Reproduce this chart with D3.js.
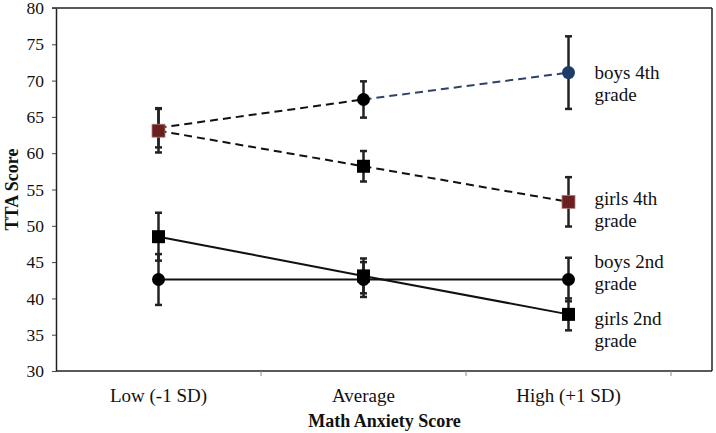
<!DOCTYPE html>
<html>
<head>
<meta charset="utf-8">
<script src="https://cdn.jsdelivr.net/npm/d3@7"></script>
<style>
  body { margin: 0; background: #fff; }
  svg text { font-family: "Liberation Serif", "Times New Roman", serif; fill: #111; }
</style>
</head>
<body>
<div id="chart"></div>
<script>
// categories on the x axis
const categories = ["Low (-1 SD)", "Average", "High (+1 SD)"];
const yTicks = [30, 35, 40, 45, 50, 55, 60, 65, 70, 75, 80];

// series means and error half-widths
const boys4 = [63.5, 67.4, 71.1];
const boys4Err = [2.7, 2.5, 5.0];
const girls4 = [63.1, 58.2, 53.3];
const girls4Err = [3.0, 2.1, 3.4];
const boys2 = [42.6, 42.6, 42.6];
const boys2Err = [3.5, 2.4, 3.0];
const girls2 = [48.5, 43.1, 37.8];
const girls2Err = [3.3, 2.4, 2.2];

const series = [
    { name: ["boys 4th", "grade"], values: boys4, err: boys4Err, shape: "circle", dash: "8,5",
      segColors: ["#111", "#2d4468"], fills: [null, "#000", "#1f3c66"], labelDy: 6 },
    { name: ["girls 4th", "grade"], values: girls4, err: girls4Err, shape: "square", dash: "8,5",
      segColors: ["#111", "#111"], fills: ["#6b1f1f", "#000", "#6b1f1f"], labelDy: 3 },
    { name: ["boys 2nd", "grade"], values: boys2, err: boys2Err, shape: "circle", dash: null,
      segColors: ["#111", "#111"], fills: ["#000", "#000", "#000"], labelDy: -12 },
    { name: ["girls 2nd", "grade"], values: girls2, err: girls2Err, shape: "square", dash: null,
      segColors: ["#111", "#111"], fills: ["#000", "#000", "#000"], labelDy: 11 }
];

const W = 716, H = 433;
const margin = { top: 8, right: 4, bottom: 62, left: 56 };
const plotRight = 671; // end of category band area, box continues to W - margin.right

const svg = d3.select("#chart").append("svg")
    .attr("width", W)
    .attr("height", H);

const x = d3.scaleBand()
    .domain(categories)
    .range([margin.left, plotRight])
    .paddingInner(0)
    .paddingOuter(0);

const y = d3.scaleLinear()
    .domain([30, 80])
    .range([H - margin.bottom, margin.top]);

const cx = d => x(d) + x.bandwidth() / 2;

// box frame (top and right)
svg.append("line")
    .attr("x1", margin.left - 4).attr("x2", W - margin.right)
    .attr("y1", y(80)).attr("y2", y(80))
    .attr("stroke", "#222").attr("stroke-width", 1.5);
svg.append("line")
    .attr("x1", W - margin.right).attr("x2", W - margin.right)
    .attr("y1", y(80)).attr("y2", y(30))
    .attr("stroke", "#222").attr("stroke-width", 1.5);

// y axis
const yAxis = svg.append("g")
    .attr("transform", `translate(${margin.left},0)`)
    .call(d3.axisLeft(y).tickValues(yTicks).tickSize(4).tickPadding(8).tickSizeOuter(0));
yAxis.select(".domain").attr("stroke", "#222").attr("stroke-width", 1.5);
yAxis.selectAll(".tick line").attr("stroke", "#444");
yAxis.selectAll("text").style("font-size", "17.5px");

// x axis line across whole frame
svg.append("line")
    .attr("x1", margin.left).attr("x2", W - margin.right)
    .attr("y1", y(30)).attr("y2", y(30))
    .attr("stroke", "#222").attr("stroke-width", 1.5);

// ticks at category boundaries
const bounds = categories.map(c => x(c)).concat([x(categories[categories.length - 1]) + x.bandwidth()]);
svg.selectAll(".xtick")
    .data(bounds.slice(1))
    .enter().append("line")
    .attr("class", "xtick")
    .attr("x1", d => d).attr("x2", d => d)
    .attr("y1", y(30)).attr("y2", y(30) + 5)
    .attr("stroke", "#888").attr("stroke-width", 1);

svg.selectAll(".xlabel")
    .data(categories)
    .enter().append("text")
    .attr("class", "xlabel")
    .attr("x", d => cx(d))
    .attr("y", 402)
    .attr("text-anchor", "middle")
    .style("font-size", "19px")
    .text(d => d);

// axis titles
svg.append("text")
    .attr("x", (margin.left + plotRight) / 2 + 21)
    .attr("y", 427)
    .attr("text-anchor", "middle")
    .style("font-size", "18px")
    .style("font-weight", "bold")
    .text("Math Anxiety Score");

svg.append("text")
    .attr("transform", `translate(18,${(y(30) + y(80)) / 2}) rotate(-90)`)
    .attr("text-anchor", "middle")
    .style("font-size", "18px")
    .style("font-weight", "bold")
    .text("TTA Score");

// error bars
const capW = 7;
series.forEach(s => {
    const g = svg.append("g");
    categories.forEach((c, i) => {
        const xc = cx(c);
        const lo = y(s.values[i] - s.err[i]);
        const hi = y(s.values[i] + s.err[i]);
        g.append("line").attr("x1", xc).attr("x2", xc).attr("y1", lo).attr("y2", hi)
            .attr("stroke", "#222").attr("stroke-width", 2.5);
        [lo, hi].forEach(yy => {
            g.append("line").attr("x1", xc - capW / 2).attr("x2", xc + capW / 2)
                .attr("y1", yy).attr("y2", yy)
                .attr("stroke", "#222").attr("stroke-width", 2.5);
        });
    });
});

// lines (segment by segment to allow colour changes)
series.forEach(s => {
    for (let i = 0; i < categories.length - 1; i++) {
        svg.append("line")
            .attr("x1", cx(categories[i])).attr("y1", y(s.values[i]))
            .attr("x2", cx(categories[i + 1])).attr("y2", y(s.values[i + 1]))
            .attr("stroke", s.segColors[i])
            .attr("stroke-width", 2)
            .attr("stroke-dasharray", s.dash);
    }
});

// markers
series.forEach(s => {
    categories.forEach((c, i) => {
        const fill = s.fills[i];
        if (!fill) return;
        if (s.shape === "circle") {
            svg.append("circle")
                .attr("cx", cx(c)).attr("cy", y(s.values[i]))
                .attr("r", 6.5)
                .attr("fill", fill);
        } else {
            svg.append("rect")
                .attr("x", cx(c) - 6.5).attr("y", y(s.values[i]) - 6.5)
                .attr("width", 13).attr("height", 13)
                .attr("fill", fill)
                .attr("stroke", fill === "#000" ? "none" : "#b08080")
                .attr("stroke-width", 0.8);
        }
    });
});

// series labels at the right end
series.forEach(s => {
    const last = categories.length - 1;
    const t = svg.append("text")
        .attr("x", cx(categories[last]) + 26)
        .attr("y", y(s.values[last]) + s.labelDy)
        .style("font-size", "19px");
    s.name.forEach((line, k) => {
        t.append("tspan")
            .attr("x", cx(categories[last]) + 26)
            .attr("dy", k === 0 ? 0 : 22)
            .text(line);
    });
});
</script>
</body>
</html>
